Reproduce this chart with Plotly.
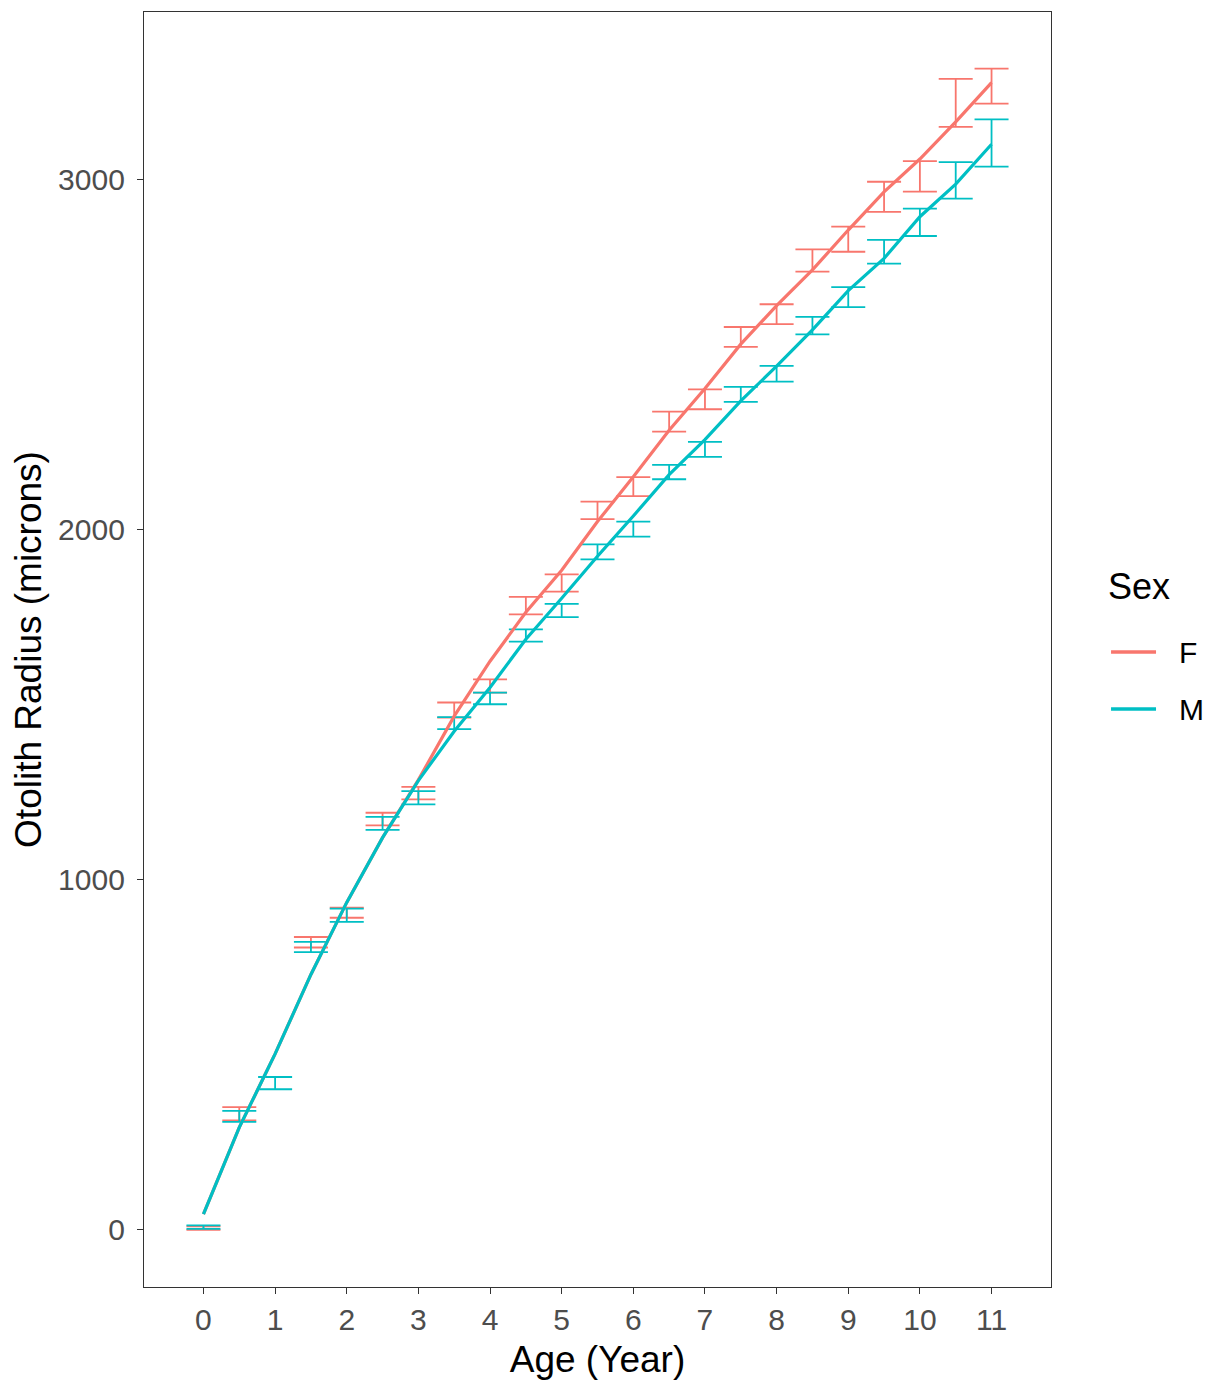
import plotly.graph_objects as go

# Error-bar ages and bounds (microns)
bar_age = [0, 0.5, 1, 1.5, 2, 2.5, 3, 3.5, 4, 4.5, 5, 5.5, 6, 6.5, 7, 7.5, 8, 8.5, 9, 9.5, 10, 10.5, 11]
F_lo = [0, 313, None, 807, 892, 1156, 1230, 1464, 1535, 1759, 1824, 2031, 2097, 2281, 2345, 2523, 2588, 2738, 2795, 2909, 2967, 3152, 3218]
F_hi = [10, 351, None, 837, 921, 1192, 1266, 1507, 1573, 1809, 1873, 2081, 2151, 2338, 2402, 2580, 2645, 2802, 2867, 2995, 3054, 3289, 3318]
M_lo = [3, 309, 402, 794, 880, 1143, 1216, 1431, 1502, 1681, 1751, 1916, 1981, 2145, 2209, 2366, 2424, 2559, 2637, 2761, 2840, 2947, 3038]
M_hi = [13, 340, 437, 823, 918, 1180, 1254, 1465, 1535, 1716, 1789, 1959, 2024, 2186, 2252, 2409, 2469, 2609, 2694, 2829, 2918, 3051, 3173]

# Fitted growth lines
line_age = [0, 0.5, 1, 1.5, 2, 2.5, 3, 3.5, 4, 4.5, 5, 5.5, 6, 6.5, 7, 7.5, 8, 8.5, 9, 9.5, 10, 10.5, 11]
F_line = [45, 293, 503, 730, 936, 1121, 1286, 1468, 1625, 1765, 1885, 2024, 2152, 2285, 2404, 2531, 2641, 2743, 2857, 2966, 3060, 3166, 3278]
M_line = [45, 293, 503, 730, 936, 1121, 1284, 1425, 1550, 1688, 1805, 1925, 2040, 2158, 2258, 2369, 2468, 2572, 2684, 2776, 2895, 2988, 3102]

x_ticks = list(range(0, 12))
y_ticks = [0, 1000, 2000, 3000]

sexes = ["F", "M"]
COLORS = {"F": "#F8766D", "M": "#00BFC4"}
FONT = "Liberation Sans, Arial"

fig = go.Figure()


def add_bars(lo, hi, color, name):
    xs, mids, errs = [], [], []
    for a, l, h in zip(bar_age, lo, hi):
        if l is None or h is None:
            continue
        xs.append(a)
        mids.append((l + h) / 2)
        errs.append((h - l) / 2)
    fig.add_trace(go.Scatter(
        x=xs, y=mids, mode="markers", name=name, showlegend=False,
        marker=dict(size=1, color="rgba(0,0,0,0)"),
        error_y=dict(type="data", array=errs, symmetric=True,
                     color=color, thickness=1.8, width=17),
        hoverinfo="skip",
    ))


add_bars(F_lo, F_hi, COLORS["F"], "F")
add_bars(M_lo, M_hi, COLORS["M"], "M")

fig.add_trace(go.Scatter(x=line_age, y=F_line, mode="lines", name="F", showlegend=False,
                         line=dict(color=COLORS["F"], width=3.2)))
fig.add_trace(go.Scatter(x=line_age, y=M_line, mode="lines", name="M", showlegend=False,
                         line=dict(color=COLORS["M"], width=3.2)))

# Manual legend (ggplot-style)
fig.add_annotation(text="Sex", xref="paper", yref="paper", x=1.0606, y=0.5498,
                   xanchor="left", yanchor="middle", showarrow=False,
                   font=dict(family=FONT, size=36, color="black"))
legend_y = {"F": 0.498, "M": 0.4533}
for s in sexes:
    fig.add_shape(type="line", xref="paper", yref="paper",
                  x0=1.0662, x1=1.1158, y0=legend_y[s], y1=legend_y[s],
                  line=dict(color=COLORS[s], width=3.5))
    fig.add_annotation(text=s, xref="paper", yref="paper", x=1.139, y=legend_y[s],
                       xanchor="left", yanchor="middle", showarrow=False,
                       font=dict(family=FONT, size=30, color="black"))

axis_common = dict(
    showgrid=False, zeroline=False, showline=True, mirror=True,
    linecolor="#333333", linewidth=1.3, ticks="outside", ticklen=6,
    tickcolor="#333333", tickwidth=1.3,
    tickfont=dict(family=FONT, size=30, color="#4D4D4D"),
)

fig.update_layout(
    width=1219, height=1385,
    margin=dict(l=136, r=176, t=4, b=106),
    paper_bgcolor="white", plot_bgcolor="white",
    font=dict(family=FONT, color="black"),
    showlegend=False,
    xaxis=dict(range=[-0.83, 11.83], tickvals=x_ticks,
               title=dict(text="Age (Year)", font=dict(size=37, color="black"), standoff=10),
               **axis_common),
    yaxis=dict(range=[-163, 3480], tickvals=y_ticks, ticklabelstandoff=6,
               title=dict(text="Otolith Radius (microns)", font=dict(size=37, color="black"), standoff=6),
               **axis_common),
)

fig.write_html("out.html")
